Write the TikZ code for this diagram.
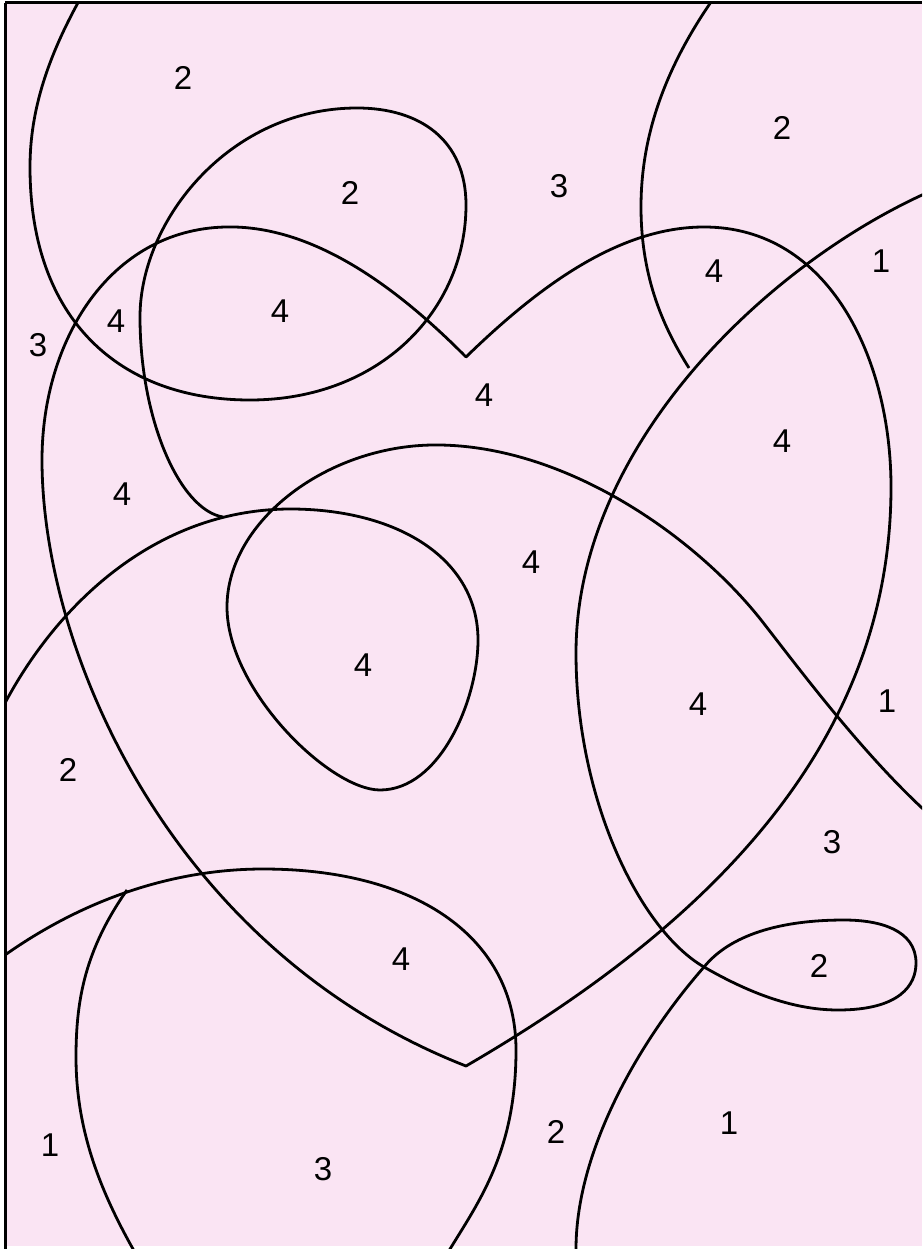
\documentclass[tikz,border=0pt]{standalone}
\usepackage{fontspec}
\setmainfont{Liberation Sans}
\definecolor{bgpink}{RGB}{250,228,243}
\begin{document}
\begin{tikzpicture}[x=1pt,y=-1pt,
  curve/.style={draw=black,line width=2.8pt,line join=round},
  num/.style={font=\fontsize{33}{38}\selectfont,inner sep=0pt,anchor=center}]
\useasboundingbox (0,0) rectangle (922,1249);
\fill[white] (0,0) rectangle (922,1249);
\fill[bgpink] (5,3) rectangle (922,1246);
\begin{scope}
\clip (5,3) rectangle (922,1249);
% curve A: top-left loop
\draw[curve] (84,-8) .. controls (48,55) and (30,110) .. (30,167)
  .. controls (30,320) and (120,400) .. (250,400)
  .. controls (380,400) and (466,310) .. (466,205)
  .. controls (466,140) and (420,108) .. (357,108)
  .. controls (230,108) and (140,220) .. (140,317)
  .. controls (140,420) and (180,510) .. (223,517);
% heart
\draw[curve] (466,357) .. controls (380,270) and (300,225) .. (225,227)
  .. controls (110,230) and (42,340) .. (42,460)
  .. controls (42,650) and (170,950) .. (466,1066)
  .. controls (700,930) and (891,750) .. (891,487)
  .. controls (891,360) and (830,227) .. (704,227)
  .. controls (620,227) and (540,285) .. cycle;
% curve C: top-right arc
\draw[curve] (718,-8) .. controls (662,70) and (641,140) .. (641,207)
  .. controls (641,280) and (665,330) .. (689,368);
% curve D: long curve with loop
\draw[curve] (935,189) -- (922,195) .. controls (760,270) and (576,450) .. (576,653)
  .. controls (576,800) and (640,930) .. (704,967)
  .. controls (744,990) and (790,1010) .. (838,1010)
  .. controls (900,1010) and (916,985) .. (916,963)
  .. controls (916,930) and (880,920) .. (844,920)
  .. controls (780,920) and (730,935) .. (704,967)
  .. controls (640,1040) and (576,1150) .. (576,1249) -- (576,1260);
% curve G: long curve with inner loop
\draw[curve] (935,820) -- (922,808) .. controls (860,750) and (800,670) .. (765,625)
  .. controls (700,540) and (570,447) .. (440,445)
  .. controls (330,443) and (227,520) .. (227,607)
  .. controls (227,690) and (330,790) .. (380,790)
  .. controls (440,790) and (478,700) .. (478,640)
  .. controls (478,560) and (400,510) .. (293,509)
  .. controls (160,508) and (60,600) .. (5,703) -- (-3,716);
% curve I: bottom shell
\draw[curve] (-5,962) -- (5,955) .. controls (90,895) and (180,869) .. (263,869)
  .. controls (420,869) and (516,940) .. (516,1050)
  .. controls (516,1150) and (480,1200) .. (450,1249) -- (443,1260);
% curve J
\draw[curve] (127,890) .. controls (85,950) and (76,1000) .. (76,1057)
  .. controls (76,1130) and (100,1190) .. (133,1249) -- (139,1260);
\end{scope}
% frame lines
\draw[black,line width=3pt] (5,3) -- (922,3);
\draw[black,line width=3pt] (5,3) -- (5,1249);
% labels
\node[num] (n1) at (183,78) {2};
\node[num] (n2) at (350,193) {2};
\node[num] (n3) at (559,186) {3};
\node[num] (n4) at (782,128) {2};
\node[num] (n5) at (714,271) {4};
\node[num] (n6) at (881,261) {1};
\node[num] (n7) at (38,345) {3};
\node[num] (n8) at (116,321) {4};
\node[num] (n9) at (280,311) {4};
\node[num] (n10) at (484,395) {4};
\node[num] (n11) at (782,441) {4};
\node[num] (n12) at (122,494) {4};
\node[num] (n13) at (531,562) {4};
\node[num] (n14) at (363,665) {4};
\node[num] (n15) at (698,704) {4};
\node[num] (n16) at (887,701) {1};
\node[num] (n17) at (68,770) {2};
\node[num] (n18) at (832,842) {3};
\node[num] (n19) at (819,966) {2};
\node[num] (n20) at (401,959) {4};
\node[num] (n21) at (50,1145) {1};
\node[num] (n22) at (323,1169) {3};
\node[num] (n23) at (556,1132) {2};
\node[num] (n24) at (729,1123) {1};
\end{tikzpicture}
\end{document}
